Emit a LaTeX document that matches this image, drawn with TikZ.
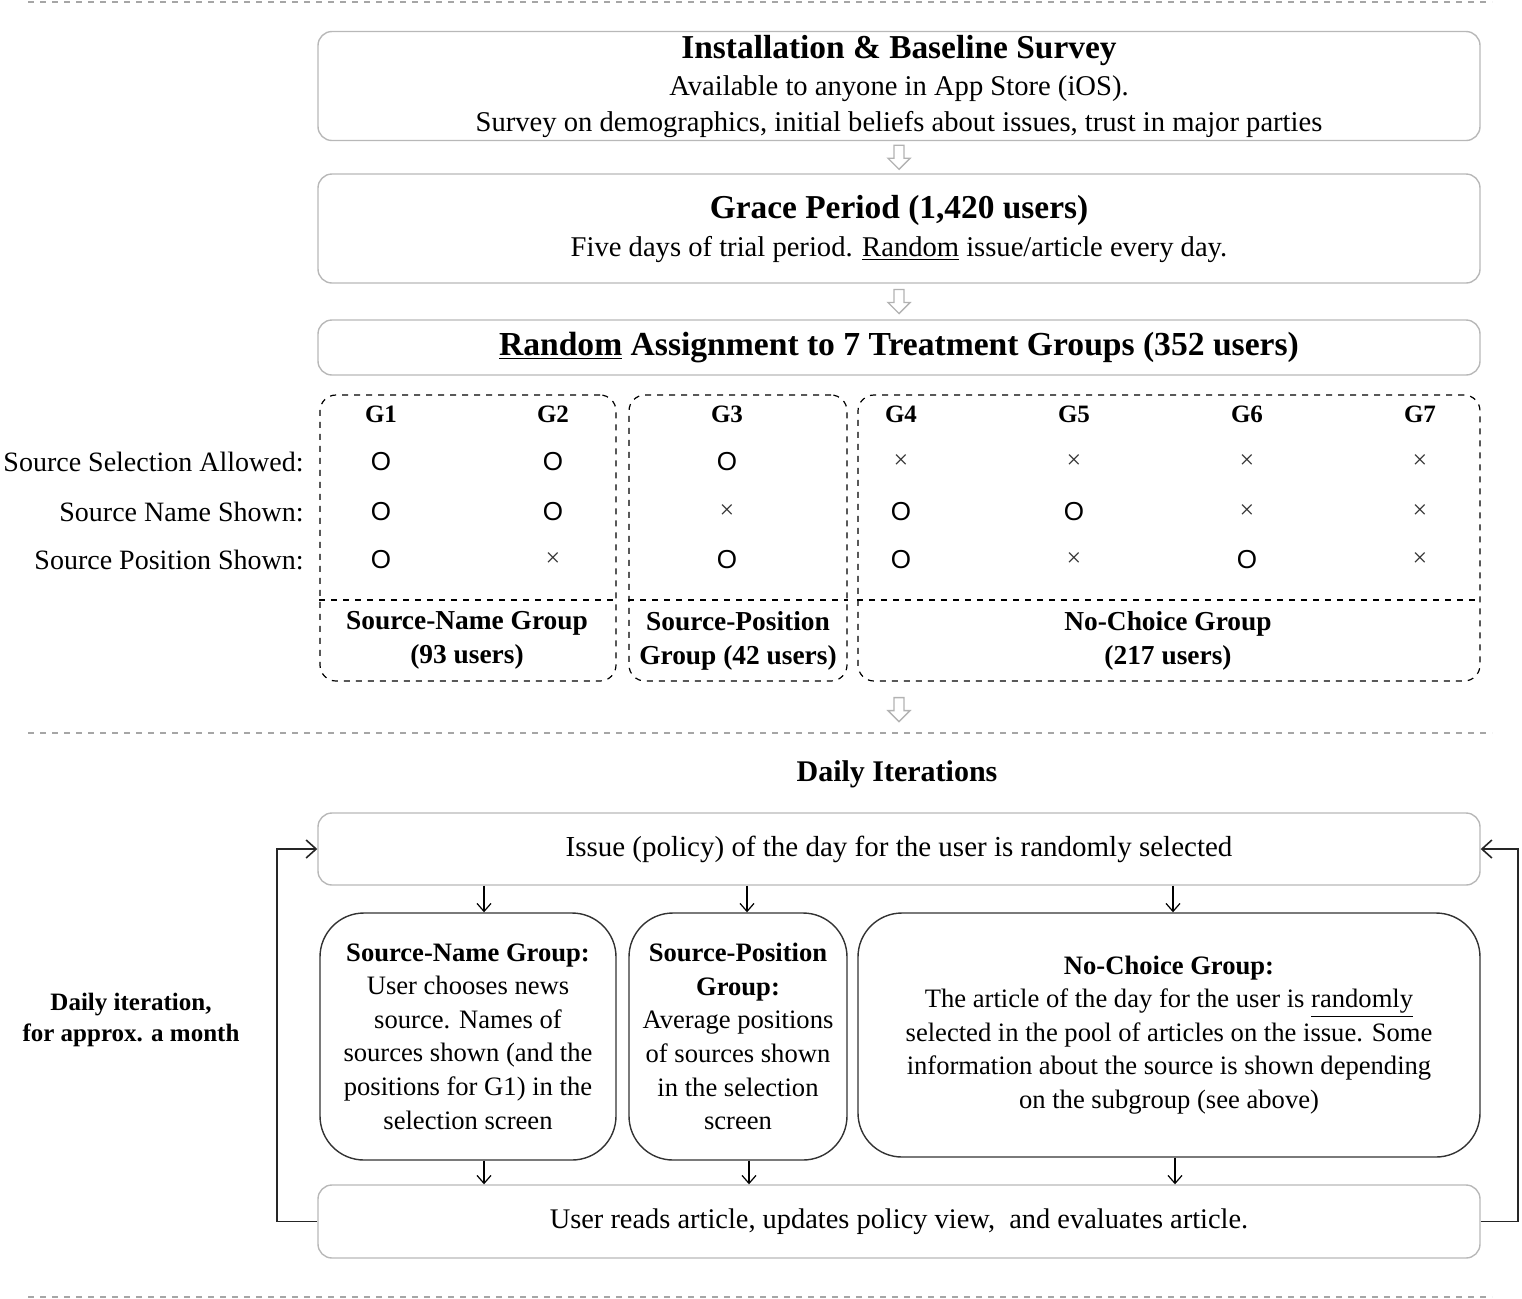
\documentclass[tikz,border=0pt]{standalone}
\usepackage{fontspec}
\setmainfont{Liberation Serif}
\setsansfont{Liberation Sans}
\usetikzlibrary{arrows.meta,calc}
\begin{document}
\begin{tikzpicture}[x=0.5pt,y=-0.5pt,
  box/.style={draw=black!28,line width=0.7pt,rounded corners=7pt,align=center,inner sep=0pt},
  grp/.style={draw=black,dashed,line width=0.6pt,rounded corners=8pt,inner sep=0pt},
  rnd/.style={draw=black!80,line width=0.7pt,rounded corners=22pt,align=center,inner sep=0pt},
  body/.style={font=\fontsize{14.3}{18}\selectfont},
  ttl/.style={font=\fontsize{16.8}{19}\selectfont\bfseries},
  hdr/.style={font=\fontsize{12.5}{14}\selectfont\bfseries},
  glab/.style={font=\fontsize{13.7}{17}\selectfont\bfseries,align=center},
  rowlab/.style={anchor=east,inner sep=0pt,font=\fontsize{14}{15}\selectfont},
  omark/.style={font=\sffamily\fontsize{13}{14}\selectfont},
  xmark/.style={font=\fontsize{13}{14}\selectfont,text=black!80},
  inner/.style={font=\fontsize{13.3}{16.8}\selectfont,align=center},
  sep/.style={draw=black!35,dashed,line width=0.6pt},
  sarr/.style={draw=black,line width=0.6pt,-{Straight Barb[length=4pt,width=7pt]}},
  larr/.style={draw=black!85,line width=0.8pt,-{Straight Barb[length=5pt,width=9pt]}},
  harrow/.pic={\draw[black!30,line width=0.7pt,line join=miter] (-5,-12) -- (5,-12) -- (5,1) -- (11,1) -- (0,12) -- (-11,1) -- (-5,1) -- cycle;}
]
\useasboundingbox (0,0) rectangle (1522,1298);

% separators
\draw[sep] (28,2) -- (1492,2);
\draw[sep] (28,733) -- (1492,733);
\draw[sep] (28,1297) -- (1492,1297);

% top boxes
\node[box,body,minimum width=581pt,minimum height=54.5pt] (b1) at (899,86)
  {{\fontsize{16.7}{18}\selectfont\bfseries Installation \& Baseline Survey}\\[0.5pt]
   Available to anyone in App Store (iOS).\\
   Survey on demographics, initial beliefs about issues, trust in major parties};
\node[box,body,minimum width=581pt,minimum height=54.5pt] (b2) at (899,228.5)
  {{\fontsize{16.7}{18}\selectfont\bfseries Grace Period (1,420 users)}\\[1pt]
   Five days of trial period. \underline{Random} issue/article every day.};
\node[box,ttl,minimum width=581pt,minimum height=27.5pt] (b3) at (899,347.5)
  {\underline{Random} Assignment to 7 Treatment Groups (352 users)};

\pic at ($(b1.south)!0.5!(b2.north)$) {harrow};
\pic at ($(b2.south)!0.5!(b3.north)$) {harrow};

% group boxes
\node[grp,minimum width=148pt,minimum height=143pt] (ga) at (468,538) {};
\node[grp,minimum width=109pt,minimum height=143pt] (gb) at (738,538) {};
\node[grp,minimum width=311pt,minimum height=143pt] (gc) at (1169,538) {};
\draw[dashed,line width=0.6pt] (ga.west |- 0,600) -- (ga.east |- 0,600);
\draw[dashed,line width=0.6pt] (gb.west |- 0,600) -- (gb.east |- 0,600);
\draw[dashed,line width=0.6pt] (gc.west |- 0,600) -- (gc.east |- 0,600);

% headers
\foreach \i/\xx in {1/381,2/553,3/727,4/901,5/1074,6/1247,7/1420}
  \node[hdr] (h\i) at (\xx,414) {G\i};

% row labels
\node[rowlab] (r1) at (304,462) {Source Selection Allowed:};
\node[rowlab] (r2) at (304,512) {Source Name Shown:};
\node[rowlab] (r3) at (304,560) {Source Position Shown:};

% marks
\foreach \i/\xx/\a/\b/\c in {1/381/o/o/o,2/553/o/o/x,3/727/o/x/o,4/901/x/o/o,5/1074/x/o/x,6/1247/x/x/o,7/1420/x/x/x}{
  \foreach \r/\v/\yy in {1/\a/462,2/\b/512,3/\c/560}{
    \if o\v
      \node[omark] (m\i\r) at (\xx,\yy) {O};
    \else
      \node[xmark] (m\i\r) at (\xx,\yy) {×};
    \fi
  }
}

% group labels
\node[glab] (la) at (467,640) {Source-Name Group\\(93 users)};
\node[glab] (lb) at (738,641) {Source-Position\\Group (42 users)};
\node[glab] (lc) at (1168,641) {No-Choice Group\\(217 users)};

\pic at ($(gb.south -| b3.south)+(0,28)$) {harrow};

% daily iterations
\node[font=\fontsize{15}{17}\selectfont\bfseries] (di) at (897,774) {Daily Iterations};

\node[box,body,font=\fontsize{14.5}{18}\selectfont,minimum width=581pt,minimum height=36pt] (b4) at (899,849)
  {Issue (policy) of the day for the user is randomly selected};

\node[rnd,inner,minimum width=148pt,minimum height=123.5pt] (b5) at (468,1036.5)
  {\textbf{Source-Name Group:}\\User chooses news\\source. Names of\\sources shown (and the\\positions for G1) in the\\selection screen};
\node[rnd,inner,minimum width=109pt,minimum height=123.5pt] (b6) at (738,1036.5)
  {\textbf{Source-Position}\\\textbf{Group:}\\Average positions\\of sources shown\\in the selection\\screen};
\node[rnd,inner,minimum width=311pt,minimum height=122pt] (b7) at (1169,1035)
  {\textbf{No-Choice Group:}\\The article of the day for the user is \underline{randomly}\\selected in the pool of articles on the issue. Some\\information about the source is shown depending\\on the subgroup (see above)};

\node[box,body,font=\fontsize{14.2}{18}\selectfont,minimum width=581pt,minimum height=36.5pt] (b8) at (899,1221.5)
  {User reads article, updates policy view,\ \ and evaluates article.};

\node[font=\fontsize{12.5}{15.5}\selectfont\bfseries,align=center] (dl) at (131,1020)
  {Daily iteration,\\for approx. a month};

% small arrows
\draw[sarr] (b4.south -| 484,0) -- (b5.north -| 484,0);
\draw[sarr] (b4.south -| 747,0) -- (b6.north -| 747,0);
\draw[sarr] (b4.south -| 1173,0) -- (b7.north -| 1173,0);
\draw[sarr] (b5.south -| 484,0) -- (b8.north -| 484,0);
\draw[sarr] (b6.south -| 749,0) -- (b8.north -| 749,0);
\draw[sarr] (b7.south -| 1175,0) -- (b8.north -| 1175,0);

% loop arrows
\coordinate (lL) at (277,1000);
\coordinate (lR) at (1518,1000);
\draw[larr] (b8.west) -- (b8.west -| lL) -- (b4.west -| lL) -- (b4.west);
\draw[larr] (b8.east) -- (b8.east -| lR) -- (b4.east -| lR) -- (b4.east);
\end{tikzpicture}
\end{document}
